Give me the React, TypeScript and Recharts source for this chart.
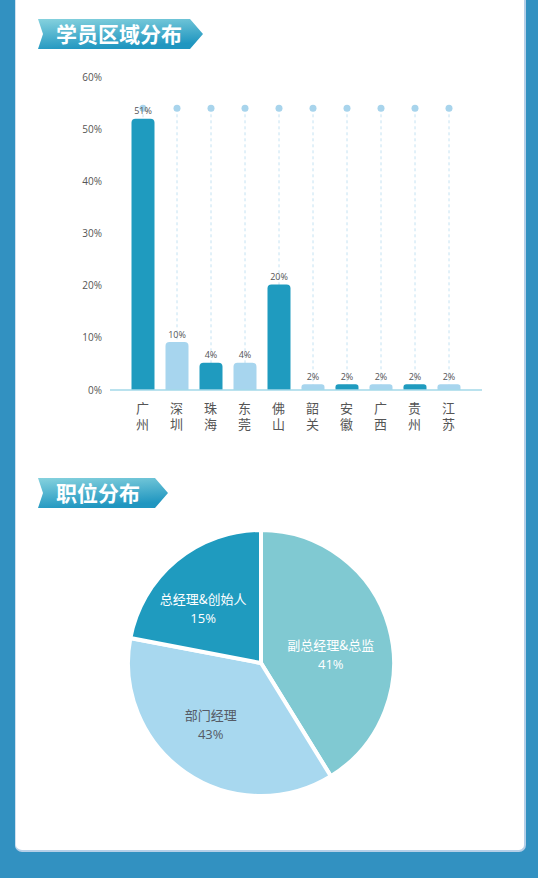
import React from 'react';
import { BarChart, Bar, XAxis, YAxis, LabelList, PieChart, Pie, Cell } from 'recharts';

const regions = ['广州', '深圳', '珠海', '东莞', '佛山', '韶关', '安徽', '广西', '贵州', '江苏'];
const regionValues = [52, 9.2, 5.2, 5.2, 20.2, 1.1, 1.1, 1.1, 1.1, 1.1];
const regionLabels = ['51%', '10%', '4%', '4%', '20%', '2%', '2%', '2%', '2%', '2%'];
const guideValue = 54;
const yTicks = [0, 10, 20, 30, 40, 50, 60];

const positions = ['副总经理&总监', '部门经理', '总经理&创始人'];
const positionValues = [41.2, 36.8, 22];
const positionLabels = ['41%', '43%', '15%'];

const DARK = '#1f9bbf';
const LIGHT = '#a7d5ee';
const barColors = [DARK, LIGHT, DARK, LIGHT, DARK, LIGHT, DARK, LIGHT, DARK, LIGHT];
const pieColors = ['#80c9d2', '#a8d8ef', '#1f9bbf'];
const pieTextColors = ['#ffffff', '#555b66', '#ffffff'];
// small per-slice label nudges (style only)
const pieLabelNudgeX = [-7, -5, -7];
const pieLabelNudgeY = [14, -4, 7];

const FONT = '"Open Sans", "Noto Sans CJK SC", sans-serif';
const CJK = '"Noto Sans CJK SC", sans-serif';

const barData = regions.map((name, i) => ({
  name,
  value: regionValues[i],
  label: regionLabels[i],
  guide: guideValue,
}));

const pieData = positions.map((name, i) => ({
  name,
  value: positionValues[i],
  label: positionLabels[i],
}));

const Banner = ({ text, left, top, width }: { text: string; left: number; top: number; width: number }) => {
  const h = 30;
  const id = 'g' + top;
  return (
    <svg style={{ position: 'absolute', left, top }} width={width} height={h}>
      <defs>
        <linearGradient id={id} x1="0" y1="0" x2="0.3" y2="1">
          <stop offset="0%" stopColor="#86d2de" />
          <stop offset="100%" stopColor="#2096c0" />
        </linearGradient>
      </defs>
      <polygon
        points={`0,0 ${width - 13},0 ${width},${h / 2} ${width - 13},${h} 0,${h} 5,${h / 2}`}
        fill={`url(#${id})`}
      />
      <text x={18} y={22.5} fill="#fff" fontSize={21} fontWeight={700} fontFamily={CJK}>
        {text}
      </text>
    </svg>
  );
};

const GuideShape = (props: any) => {
  const { x, y, width, height } = props;
  const cx = x + width / 2;
  return (
    <g>
      <line x1={cx} y1={y} x2={cx} y2={y + height} stroke="#c4e2f2" strokeDasharray="3 3" strokeWidth={1} />
      <circle cx={cx} cy={y} r={3.5} fill="#a8d4ec" />
    </g>
  );
};

const XTick = (props: any) => {
  const { x, y, payload } = props;
  return (
    <text
      x={x}
      y={y + 4}
      textAnchor="start"
      fill="#555"
      fontSize={13}
      fontFamily={CJK}
      style={{ writingMode: 'vertical-rl', textOrientation: 'upright', letterSpacing: '2.5px' } as any}
    >
      {payload.value}
    </text>
  );
};

const BarLabel = (props: any) => {
  const { x, y, width, index } = props;
  return (
    <text x={x + width / 2} y={y - 4.5} textAnchor="middle" fill="#555" fontSize={9} fontFamily={FONT}>
      {regionLabels[index]}
    </text>
  );
};

const RADIAN = Math.PI / 180;
const PieLabel = (props: any) => {
  const { cx, cy, midAngle, outerRadius, index } = props;
  const r = outerRadius * 0.6;
  const x = cx + r * Math.cos(-midAngle * RADIAN) + pieLabelNudgeX[index];
  const y = cy + r * Math.sin(-midAngle * RADIAN) + pieLabelNudgeY[index];
  return (
    <g>
      <text x={x} y={y - 5} textAnchor="middle" fill={pieTextColors[index]} fontSize={13} fontFamily={CJK}>
        {positions[index]}
      </text>
      <text x={x} y={y + 14} textAnchor="middle" fill={pieTextColors[index]} fontSize={13} fontFamily={FONT}>
        {positionLabels[index]}
      </text>
    </g>
  );
};

export default function App() {
  return (
    <div
      style={{
        position: 'absolute',
        left: 0,
        top: 0,
        width: 538,
        height: 878,
        background: '#3291c1',
        overflow: 'hidden',
        fontFamily: FONT,
      }}
    >
      <div
        style={{
          position: 'absolute',
          left: 15,
          top: -10,
          width: 508,
          height: 860,
          background: '#fff',
          borderRadius: 7,
          borderRight: '2px solid #b5cfe8',
          borderBottom: '2px solid #b5cfe8',
          borderLeft: '1px solid #cfe0f0',
        }}
      />
      <Banner text="学员区域分布" left={38} top={19} width={165} />
      <Banner text="职位分布" left={38} top={478} width={130} />

      <div style={{ position: 'absolute', left: 0, top: 0 }}>
        <BarChart
          width={538}
          height={450}
          data={barData}
          margin={{ top: 77, right: 56, bottom: 10, left: 50 }}
        >
          <XAxis
            dataKey="name"
            xAxisId="main"
            height={50}
            padding={{ left: 15.5, right: 16.5 }}
            axisLine={{ stroke: '#a3d9e8', strokeWidth: 1.5 }}
            tickLine={false}
            tick={<XTick />}
            interval={0}
          />
          <XAxis
            dataKey="name"
            xAxisId="guide"
            orientation="top"
            height={0}
            hide
            padding={{ left: 15.5, right: 16.5 }}
          />
          <YAxis
            width={60}
            domain={[0, 60]}
            ticks={yTicks}
            axisLine={false}
            tickLine={false}
            tickFormatter={(v: number) => `${v}%`}
            tick={{ fill: '#555', fontSize: 10, fontFamily: FONT }}
          />
          <Bar dataKey="guide" xAxisId="guide" barSize={23} isAnimationActive={false} shape={<GuideShape />} />
          <Bar dataKey="value" xAxisId="main" barSize={23} radius={[4, 4, 0, 0]} isAnimationActive={false}>
            {barData.map((d, i) => (
              <Cell key={d.name} fill={barColors[i]} />
            ))}
            <LabelList dataKey="value" content={<BarLabel />} />
          </Bar>
        </BarChart>
      </div>

      <div style={{ position: 'absolute', left: 0, top: 513 }}>
        <PieChart width={538} height={300} margin={{ top: 0, right: 0, bottom: 0, left: 0 }}>
          <Pie
            data={pieData}
            dataKey="value"
            nameKey="name"
            cx={261}
            cy={150}
            outerRadius={133}
            startAngle={90}
            endAngle={-270}
            stroke="#fff"
            strokeWidth={4}
            isAnimationActive={false}
            labelLine={false}
            label={<PieLabel />}
          >
            {pieData.map((d, i) => (
              <Cell key={d.name} fill={pieColors[i]} />
            ))}
          </Pie>
        </PieChart>
      </div>
    </div>
  );
}
